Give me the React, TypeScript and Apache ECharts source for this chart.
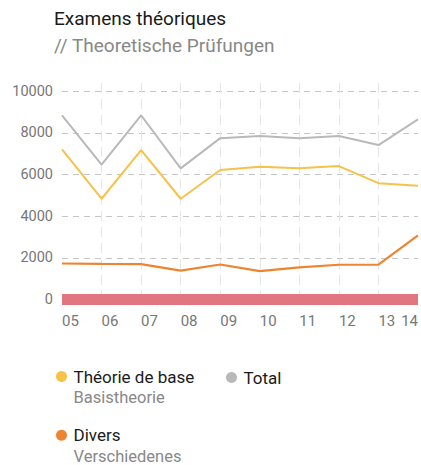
import React, { useEffect, useRef } from "react";
import * as echarts from "echarts";

const categories = ["05", "06", "07", "08", "09", "10", "11", "12", "13", "14"];
const totalValues = [8850, 6480, 8850, 6300, 7750, 7850, 7750, 7850, 7420, 8650];
const baseValues = [7210, 4840, 7170, 4840, 6220, 6380, 6310, 6410, 5590, 5470];
const diversValues = [1730, 1710, 1700, 1390, 1680, 1360, 1540, 1670, 1670, 3080];
const yTicks = [0, 2000, 4000, 6000, 8000, 10000];

const seriesNames = { base: "Théorie de base", total: "Total", divers: "Divers" };
const subNames: Record<string, string> = {
  "Théorie de base": "Basistheorie",
  Divers: "Verschiedenes",
};

const FONT = "Roboto, 'Noto Sans', sans-serif";

const legendRich = {
  z: { fontSize: 17, lineHeight: 22, fontFamily: FONT },
  a: { fontSize: 17, lineHeight: 20, color: "#1a1a1a", fontFamily: FONT },
  b: { fontSize: 16.5, lineHeight: 22, color: "#888888", fontFamily: FONT },
};

const legendFormatter = (name: string) => {
  const sub = subNames[name];
  if (sub) return `{z| }\n{a|${name}}\n{b|${sub}}`;
  return `{a|${name}}`;
};

const makeLegend = (name: string, left: number, top: number) => ({
  data: [name],
  left,
  top,
  padding: 0,
  icon: "circle",
  itemWidth: 14,
  itemHeight: 11,
  selectedMode: false,
  formatter: legendFormatter,
  textStyle: { rich: legendRich, fontFamily: FONT },
});

export default function App() {
  const ref = useRef<HTMLDivElement>(null);
  useEffect(() => {
    if (!ref.current) return;
    const chart = echarts.init(ref.current, null, { renderer: "svg" });
    chart.setOption({
      animation: false,
      textStyle: { fontFamily: FONT },
      title: {
        text: "Examens théoriques",
        subtext: "// Theoretische Prüfungen",
        left: 54,
        top: 9,
        padding: 0,
        itemGap: 8,
        textStyle: { fontSize: 19, fontWeight: "normal", color: "#1a1a1a", fontFamily: FONT },
        subtextStyle: { fontSize: 19, color: "#888888", fontFamily: FONT },
      },
      legend: [
        makeLegend(seriesNames.base, 56, 347),
        makeLegend(seriesNames.total, 226, 369),
        makeLegend(seriesNames.divers, 56, 405.7),
      ],
      grid: { left: 62, right: 1, top: 83, bottom: 165.5, containLabel: false },
      xAxis: {
        type: "category",
        data: categories,
        boundaryGap: false,
        axisLine: {
          show: true,
          onZero: true,
          lineStyle: { color: "#e27680", width: 11, cap: "butt" },
        },
        axisTick: { show: false },
        axisLabel: {
          color: "#777777",
          fontSize: 15,
          align: "left",
          margin: 14,
          alignMaxLabel: "right",
          fontFamily: FONT,
        },
        splitLine: {
          show: true,
          showMinLine: false,
          showMaxLine: false,
          lineStyle: { color: "#e6e6e6", type: [10, 6], width: 1 },
        },
      },
      yAxis: {
        type: "value",
        min: yTicks[0],
        max: 10400,
        interval: 2000,
        axisLine: { show: false },
        axisTick: { show: false },
        axisLabel: {
          color: "#777777",
          fontSize: 14.5,
          margin: 9,
          showMaxLabel: false,
          formatter: (v: number) => String(v),
          fontFamily: FONT,
        },
        splitLine: {
          show: true,
          showMaxLine: false,
          lineStyle: { color: "#c6c6c6", type: [6, 5], width: 1 },
        },
      },
      series: [
        {
          name: seriesNames.total,
          type: "line",
          data: totalValues,
          symbol: "none",
          color: "#b9b9b9",
          lineStyle: { width: 2, color: "#b9b9b9" },
        },
        {
          name: seriesNames.base,
          type: "line",
          data: baseValues,
          symbol: "none",
          color: "#f6c24a",
          lineStyle: { width: 2, color: "#f6c24a" },
        },
        {
          name: seriesNames.divers,
          type: "line",
          data: diversValues,
          symbol: "none",
          color: "#ee8430",
          lineStyle: { width: 2.2, color: "#ee8430" },
        },
      ],
    });
    return () => chart.dispose();
  }, []);
  return (
    <div
      ref={ref}
      style={{ position: "fixed", left: 0, top: 0, width: 421, height: 465, background: "#fff" }}
    />
  );
}
